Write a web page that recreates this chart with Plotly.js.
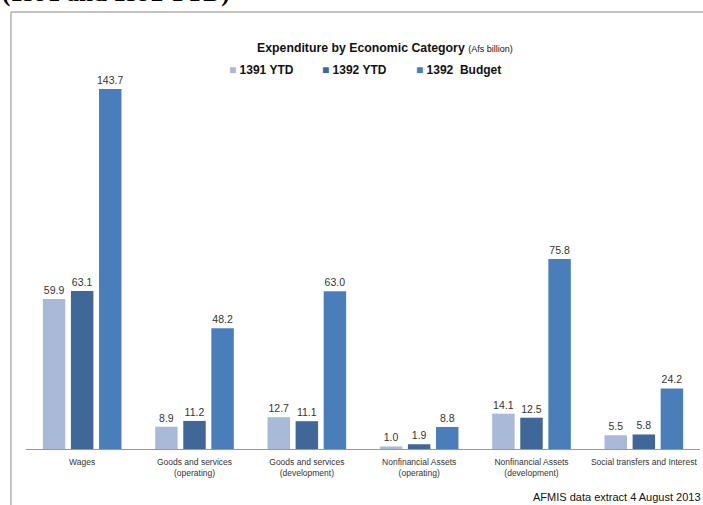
<!DOCTYPE html>
<html>
<head>
<meta charset="utf-8">
<script src="https://cdn.plot.ly/plotly-3.0.1.min.js"></script>
<style>html,body{margin:0;padding:0;background:#fff;overflow:hidden}#chart{width:703px;height:505px}</style>
</head>
<body>
<div id="chart"></div>
<script>
var categories = ["Wages", "Goods and services<br>(operating)", "Goods and services<br>(development)", "Nonfinancial Assets<br>(operating)", "Nonfinancial Assets<br>(development)", "Social transfers and Interest"];
var seriesNames = ["1391 YTD", "1392 YTD", "1392\u00a0 Budget"];
var ytd1391 = [59.9, 8.9, 12.7, 1.0, 14.1, 5.5];
var ytd1392 = [63.1, 11.2, 11.1, 1.9, 12.5, 5.8];
var budget1392 = [143.7, 48.2, 63.0, 8.8, 75.8, 24.2];
var colors = ["#A9BAD9", "#3F6899", "#4A7EBB"];

var F = "Liberation Sans, Arial, sans-serif";
var values = [ytd1391, ytd1392, budget1392];
var traces = values.map(function (v, i) {
  return {
    type: "bar",
    name: seriesNames[i],
    x: categories,
    y: v,
    text: v.map(function (d) { return d.toFixed(1); }),
    textposition: "outside",
    constraintext: "none",
    cliponaxis: false,
    textfont: {family: F, size: 10.5, color: "#333"},
    marker: {color: colors[i], line: {width: 0}},
    hoverinfo: "none",
    showlegend: false
  };
});

var legendX = [0.2975, 0.4369, 0.5764];
var legendAnns = seriesNames.map(function (n, i) {
  return {xref: "paper", yref: "paper", x: legendX[i], y: 1.027, xanchor: "left", yanchor: "middle", showarrow: false,
    text: "<span style=\"color:" + colors[i] + ";font-size:12px\">\u25A0</span> <b>" + n + "</b>",
    font: {family: F, size: 12, color: "#111"}};
});

var layout = {
  width: 703, height: 505,
  margin: {l: 26, r: 3, t: 80, b: 56},
  paper_bgcolor: "#fff", plot_bgcolor: "rgba(0,0,0,0)",
  barmode: "group", bargap: 0.25, bargroupgap: 0.2,
  showlegend: false,
  xaxis: {showgrid: false, zeroline: false, showline: true, linecolor: "#999", linewidth: 1,
    ticks: "", ticklabelstandoff: 5, tickfont: {family: F, size: 8.5, color: "#333"}, fixedrange: true},
  yaxis: {range: [0, 147.3], visible: false, fixedrange: true},
  annotations: [
    {xref: "paper", yref: "paper", x: 0.533, y: 1.0867, xanchor: "center", yanchor: "middle", showarrow: false,
      text: "<b>Expenditure by Economic Category</b> <span style=\"font-size:9px\">(Afs billion)</span>",
      font: {family: F, size: 12.3, color: "#111"}},
    {xref: "paper", yref: "paper", x: 1.004, y: -0.13, xanchor: "right", yanchor: "middle", showarrow: false,
      text: "AFMIS data extract 4 August 2013", font: {family: F, size: 11, color: "#111"}},
    {xref: "paper", yref: "paper", x: -0.0386, y: 1.236, xanchor: "left", yanchor: "middle", showarrow: false,
      text: "<b>(1391 and 1392 YTD)</b>", font: {family: "Liberation Serif, Times New Roman, serif", size: 25, color: "#000"}}
  ].concat(legendAnns),
  shapes: [
    {type: "rect", xref: "paper", yref: "paper", x0: -0.0223, x1: 1.05, y0: -0.3, y1: 1.1843,
      line: {color: "#888", width: 1}, fillcolor: "rgba(0,0,0,0)", layer: "below"}
  ]
};

Plotly.newPlot("chart", traces, layout, {displayModeBar: false, staticPlot: true});
</script>
</body>
</html>
